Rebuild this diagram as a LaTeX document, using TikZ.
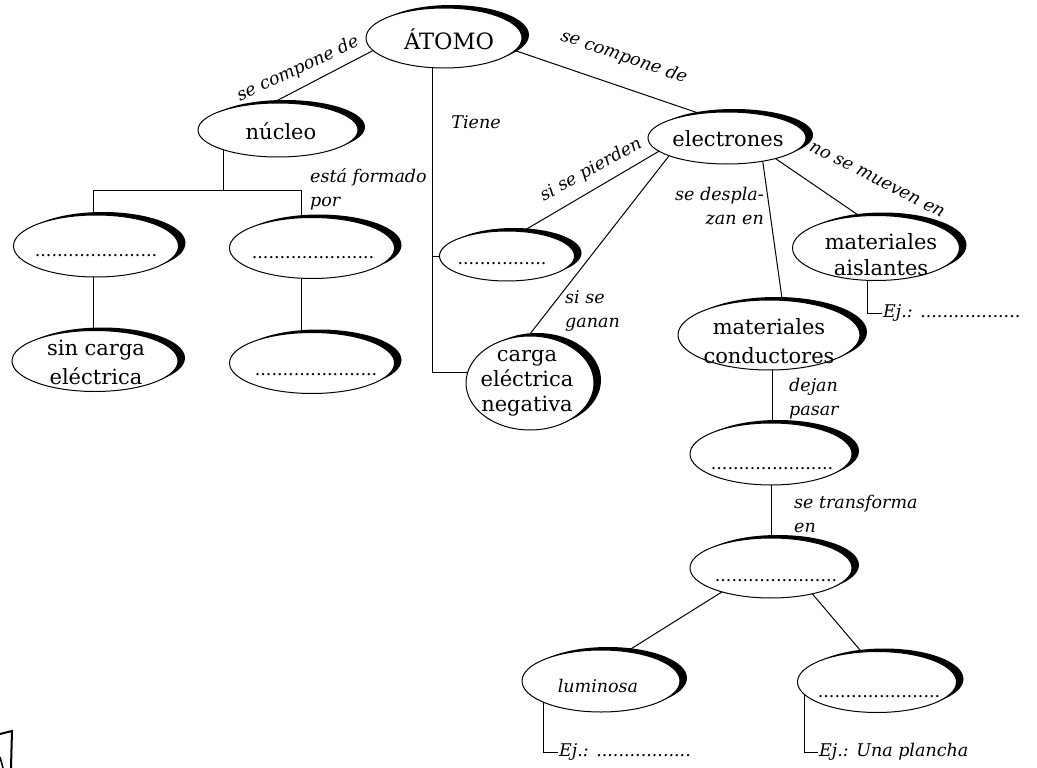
\documentclass[tikz,border=0pt]{standalone}
\usepackage{fontspec}
\setmainfont{DejaVu Serif}
\usetikzlibrary{shapes.geometric,shadows}
\tikzset{
  bub/.style={ellipse, draw, line width=1pt, fill=white, inner sep=0pt, outer sep=0pt,
    general shadow={fill=black, draw=none, shadow xshift=7pt, shadow yshift=3pt}},
  up/.style={font=\fontsize{21}{27}\selectfont, align=center, inner sep=0pt},
  it/.style={font=\fontsize{17.5}{24}\selectfont\itshape, inner sep=1pt},
  dotline/.style={font=\fontsize{17.5}{20}\selectfont, inner sep=0pt, anchor=base},
  conn/.style={line width=1pt},
}
\begin{document}
\begin{tikzpicture}[x=1pt,y=-1pt]
\useasboundingbox (0,0) rectangle (1037,768);
\fill[white] (0,0) rectangle (1037,768);

% ellipses
\node[bub, minimum width=156pt, minimum height=60pt] (atomo) at (444,38) {};
\node[bub, minimum width=160pt, minimum height=54pt] (nucleo) at (278,130) {};
\node[bub, minimum width=165pt, minimum height=62pt] (e1) at (96,246) {};
\node[bub, minimum width=165pt, minimum height=61pt] (e2) at (312,248) {};
\node[bub, minimum width=166pt, minimum height=61pt] (e3) at (95,361) {};
\node[bub, minimum width=165pt, minimum height=61pt] (e4) at (312,363) {};
\node[bub, minimum width=158pt, minimum height=52pt] (electrones) at (727,138) {};
\node[bub, minimum width=135pt, minimum height=50pt] (e5) at (507,256) {};
\node[bub, minimum width=128pt, minimum height=94pt] (carga) at (530,383) {};
\node[bub, minimum width=167pt, minimum height=65pt] (aislantes) at (876,248) {};
\node[bub, minimum width=182pt, minimum height=70pt] (cond) at (769,335) {};
\node[bub, minimum width=162pt, minimum height=62pt] (e6) at (771,454) {};
\node[bub, minimum width=162pt, minimum height=60pt] (e7) at (771,568) {};
\node[bub, minimum width=158pt, minimum height=62pt] (lum) at (601,681) {};
\node[bub, minimum width=159pt, minimum height=61pt] (e8) at (877,682) {};

% texts in ellipses
\node[up, font=\fontsize{22.5}{26}\selectfont] (tatomo) at (449,39) {ÁTOMO};
\node[up] (tnucleo) at (281,131) {núcleo};
\node[dotline] (d1) at (96,256) {......................};
\node[dotline] (d2) at (313,258) {......................};
\node[up, font=\fontsize{21}{29}\selectfont] (te3) at (96,362) {sin carga\\eléctrica};
\node[dotline] (d4) at (316,375) {......................};
\node[up] (telec) at (728,139) {electrones};
\node[dotline] (d5) at (502,264) {................};
\node[up, font=\fontsize{21}{25}\selectfont] (tcarga) at (527,383) {carga\\eléctrica\\negativa};
\node[up, font=\fontsize{21}{26}\selectfont] (tais) at (881,255) {materiales\\aislantes};
\node[up, font=\fontsize{21}{29}\selectfont] (tcond) at (769,341) {materiales\\conductores};
\node[dotline] (d6) at (772,469) {......................};
\node[dotline] (d7) at (776,581) {......................};
\node[it] (tlum) at (598,686) {luminosa};
\node[dotline] (d8) at (879,697) {......................};

% connector labels
\node[it, rotate=25] (l1) at (298,69) {se compone de};
\node[it, rotate=-19] (l2) at (624,57) {se compone de};
\node[it] (l3) at (476,122) {Tiene};
\node[it, align=left, anchor=west] (l4) at (309,189) {está formado\\por};
\node[it, rotate=29] (l5) at (591,170) {si se pierden};
\node[it, align=left, anchor=west] (l6) at (564,311) {si se\\ganan};
\node[it, align=right, anchor=east] (l7) at (765,206) {se despla-\\zan en};
\node[it, rotate=-27] (l8) at (877,180) {no se mueven en};
\node[it, align=left, anchor=west] (l9) at (788,399) {dejan\\pasar};
\node[it, align=left, anchor=west] (l10) at (793,514) {se transforma\\en};

% examples
\node[it, anchor=west] (ej1) at (882,313) {Ej.: ..................};
\node[it, anchor=west] (ej2) at (558,752) {Ej.: .................};
\node[it, anchor=west] (ej3) at (818,752) {Ej.: Una plancha};

% connectors
\draw[conn] (atomo.190) -- (nucleo.102);
\draw[conn] (atomo.350) -- (electrones.138);
\draw[conn] (atomo.248) |- (carga.170);
\draw[conn] (e5.west) -- (e5.west -| atomo.248);
\draw[conn] (nucleo.200) -- ++(0,41) coordinate (nb);
\coordinate (e1t) at ([xshift=-3pt]e1.north);
\coordinate (e2t) at ([xshift=-11pt]e2.north);
\draw[conn] (e1t) |- (nb);
\draw[conn] (nb) -| (e2t);
\draw[conn] ([xshift=-3pt]e1.south) -- ([xshift=-2pt]e3.north);
\draw[conn] ([xshift=-11pt]e2.south) -- ([xshift=-11pt]e4.north);
\draw[conn] (electrones.191) -- (e5.58);
\draw[conn] (electrones.197) -- (carga.92);
\draw[conn] (electrones.327) -- (cond.69);
\draw[conn] (electrones.337) -- (aislantes.117);
\draw[conn] ([xshift=3pt]cond.south) -- ([xshift=1pt]e6.north);
\draw[conn] (e6.south) -- (e7.north);
\draw[conn] (e7.206) -- (lum.49);
\draw[conn] (e7.328) -- (e8.117);
\draw[conn] ([xshift=-9pt]aislantes.south) |- (ej1.west);
\draw[conn] (lum.200) |- (ej2.west);
\draw[conn] (e8.190) |- (ej3.west);

% scan fragment at bottom left
\draw[line width=2pt] (0,734) -- (12,731) -- (11,768);
\draw[line width=1.5pt] (0,757) -- (3,768);
\end{tikzpicture}
\end{document}
